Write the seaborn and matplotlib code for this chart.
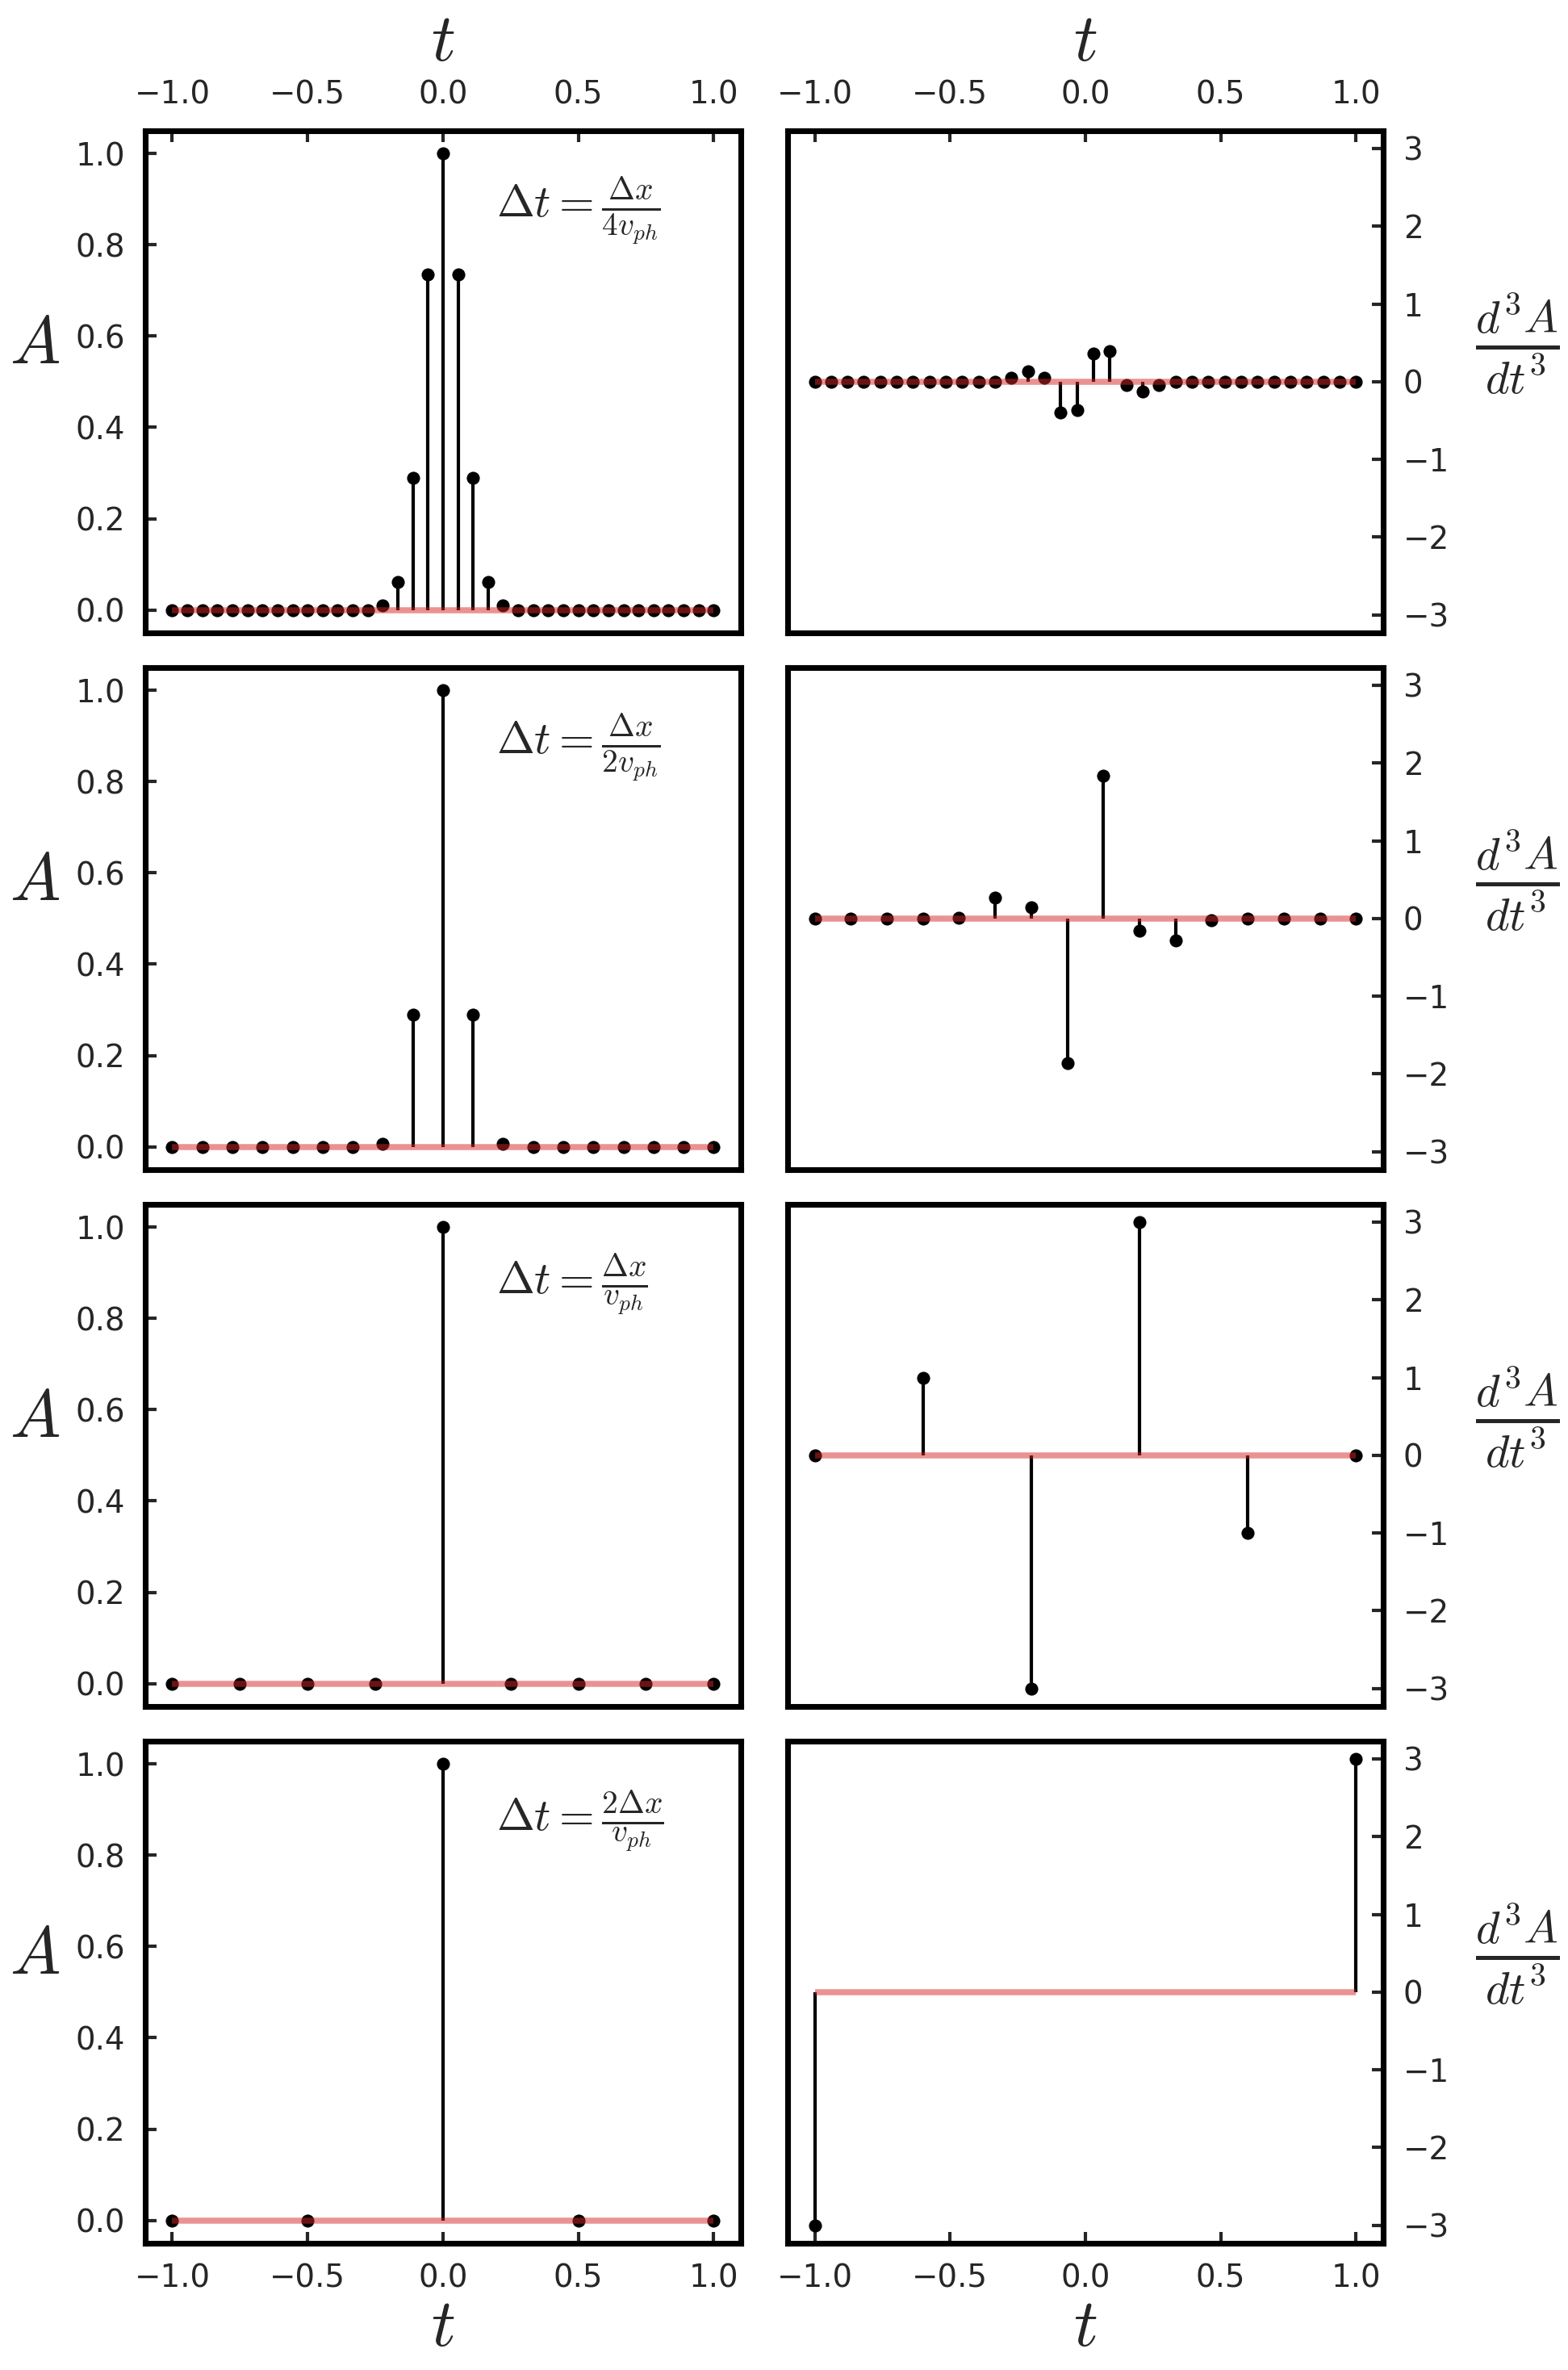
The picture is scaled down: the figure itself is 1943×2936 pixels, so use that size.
import numpy as np
import matplotlib
matplotlib.use("Agg")
import matplotlib.pyplot as plt
import seaborn as sns

# sample amplitudes (left column: A, right column: d^3A/dt^3)
A_dt4 = [0, 0, 0, 0, 0, 0, 0, 0, 0, 0, 0, 0, 0, 0,
         0.01, 0.062, 0.29, 0.735, 1.0, 0.735, 0.29, 0.062, 0.01,
         0, 0, 0, 0, 0, 0, 0, 0, 0, 0, 0, 0, 0, 0]
d3_dt4 = [0, 0, 0, 0, 0, 0, 0, 0, 0, 0, 0, 0,
          0.05, 0.13, 0.05, -0.40, -0.36, 0.36, 0.39, -0.04, -0.13, -0.04,
          0, 0, 0, 0, 0, 0, 0, 0, 0, 0, 0, 0]

A_dt2 = [0, 0, 0, 0, 0, 0, 0, 0.006, 0.29, 1.0, 0.29, 0.006, 0, 0, 0, 0, 0, 0, 0]
d3_dt2 = [0, 0, 0, 0, 0.01, 0.27, 0.14, -1.86, 1.84, -0.16, -0.28, -0.02, 0, 0, 0, 0]

A_dt1 = [0, 0, 0, 0, 1.0, 0, 0, 0, 0]
d3_dt1 = [0, 1, -3, 3, -1, 0]

A_2dt = [0, 0, 1.0, 0, 0]
d3_2dt = [-3, 3]

labels = [r'$\Delta t = \frac{\Delta x}{4v_{ph}}$',
          r'$\Delta t = \frac{\Delta x}{2v_{ph}}$',
          r'$\Delta t = \frac{\Delta x}{v_{ph}}$',
          r'$\Delta t = \frac{2\Delta x}{v_{ph}}$']

left_data = [A_dt4, A_dt2, A_dt1, A_2dt]
right_data = [d3_dt4, d3_dt2, d3_dt1, d3_2dt]

sns.set_style("white")
plt.rcParams['font.family'] = ['DejaVu Sans']
plt.rcParams['mathtext.fontset'] = 'cm'
plt.rcParams['axes.linewidth'] = 1.7
plt.rcParams['axes.edgecolor'] = 'black'


def stem(ax, vals):
    vals = np.asarray(vals, dtype=float)
    t = np.linspace(-1, 1, len(vals))
    ax.vlines(t, 0, vals, colors='k', lw=1.0, zorder=2)
    sns.scatterplot(x=t, y=vals, ax=ax, color='k', s=15, linewidth=0, zorder=3)
    ax.hlines(0, t[0], t[-1], colors='tab:red', alpha=0.5, lw=1.8, zorder=4)


fig = plt.figure(figsize=(1943 / 300, 2936 / 300), dpi=300)

w, h = 0.3798, 0.2119
lefts = [0.0926, 0.5023]
bottoms = [0.7330, 0.5065, 0.2800, 0.0535]

for r in range(4):
    axl = fig.add_axes([lefts[0], bottoms[r], w, h])
    axr = fig.add_axes([lefts[1], bottoms[r], w, h])

    stem(axl, left_data[r])
    stem(axr, right_data[r])

    for ax in (axl, axr):
        ax.set_xlim(-1.1, 1.1)
        ax.set_xticks([-1.0, -0.5, 0.0, 0.5, 1.0])
        ax.tick_params(axis='x', direction='in', length=3.3, width=1.0, pad=6,
                       labelsize=9.3, top=(r == 0), bottom=(r == 3),
                       labeltop=(r == 0), labelbottom=(r == 3))
        ax.set_xlabel('')
        ax.set_ylabel('')
        if r == 0:
            ax.xaxis.set_label_position('top')
            ax.set_xlabel(r'$t$', fontsize=20, va='center')
            ax.xaxis.set_label_coords(0.5, 1.178)
        elif r == 3:
            ax.set_xlabel(r'$t$', fontsize=20, va='center')
            ax.xaxis.set_label_coords(0.5, -0.166)

    axl.set_ylim(-0.05, 1.05)
    axl.set_yticks([0.0, 0.2, 0.4, 0.6, 0.8, 1.0])
    axl.tick_params(axis='y', direction='in', length=3.3, width=1.0, pad=6,
                    labelsize=9.3, left=True, right=False)
    axl.set_ylabel(r'$A$', fontsize=20, rotation=0, ha='center', va='center')
    axl.yaxis.set_label_coords(-0.186, 0.575)
    axl.text(0.59, 0.84, labels[r], transform=axl.transAxes, fontsize=13.5,
             ha='left', va='center')

    axr.set_ylim(-3.23, 3.23)
    axr.set_yticks([-3, -2, -1, 0, 1, 2, 3])
    axr.yaxis.tick_right()
    axr.tick_params(axis='y', direction='in', length=3.3, width=1.0, pad=6,
                    labelsize=9.3, left=False, right=True,
                    labelleft=False, labelright=True)
    axr.yaxis.set_label_position('right')
    axr.set_ylabel(r'$\frac{d^3A}{dt^3}$', fontsize=19.5, rotation=0,
                   ha='center', va='center')
    axr.yaxis.set_label_coords(1.226, 0.575)

fig.savefig('out.png', dpi=300)
